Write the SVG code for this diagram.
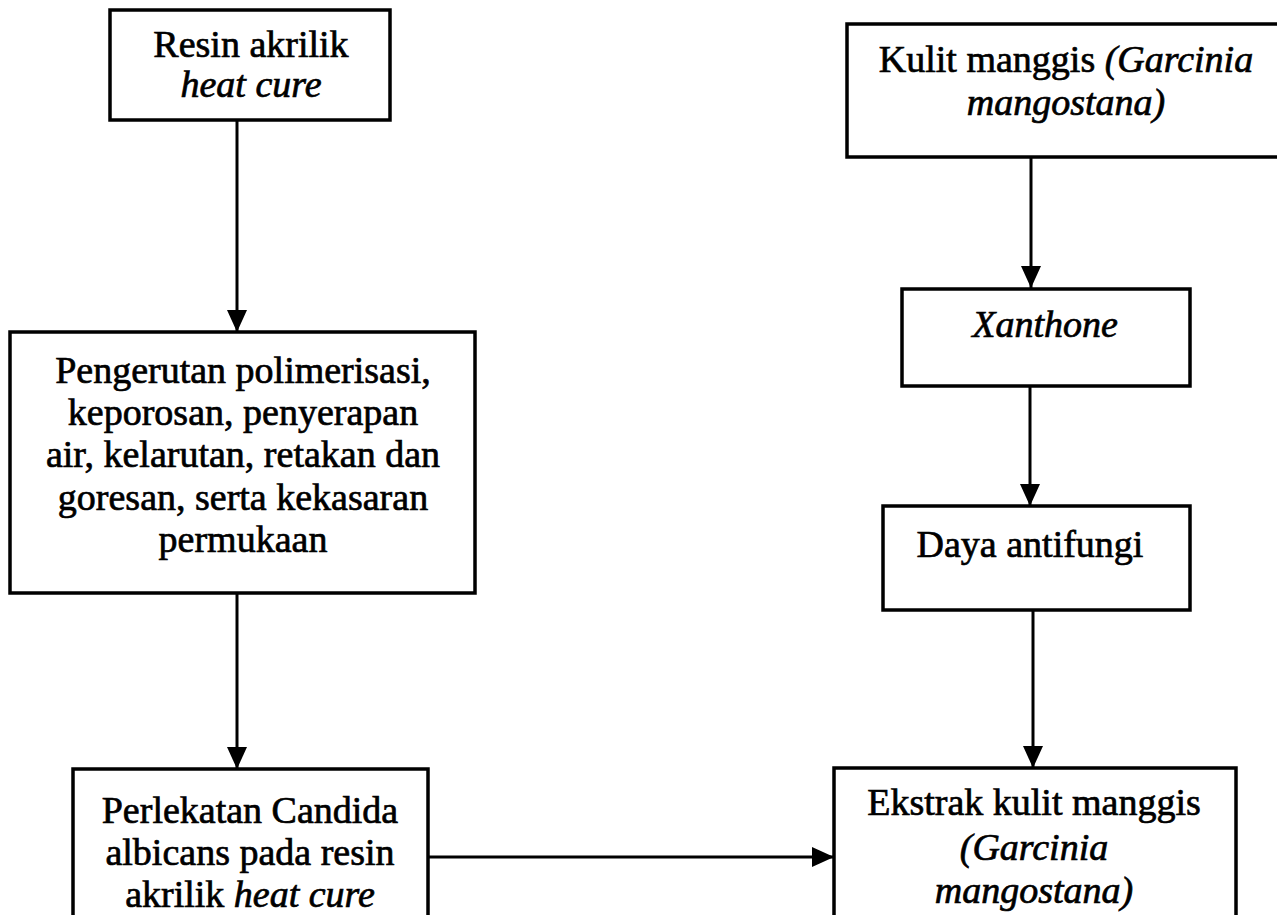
<svg xmlns="http://www.w3.org/2000/svg" width="1277" height="915" viewBox="0 0 1277 915">
<style>
.box{fill:#fff;stroke:#000;stroke-width:3.5}
.t{font-family:"Liberation Serif","Times New Roman",serif;font-size:38px;fill:#000;stroke:#000;stroke-width:0.7;text-anchor:middle}
.i{font-style:italic}
.c{fill:none;stroke:#000;stroke-width:3}
</style>
<defs>
<marker id="ah" markerUnits="userSpaceOnUse" markerWidth="24" markerHeight="22" refX="22" refY="10" orient="auto">
<path d="M0,0 L22,10 L0,20 Z" fill="#000"/>
</marker>
</defs>
<rect width="1277" height="915" fill="#fff"/>
<g id="connectors">
<line class="c" x1="237" y1="120" x2="237" y2="332" marker-end="url(#ah)"/>
<line class="c" x1="237" y1="593" x2="237" y2="769" marker-end="url(#ah)"/>
<line class="c" x1="1031" y1="157" x2="1031" y2="288" marker-end="url(#ah)"/>
<line class="c" x1="1030" y1="386" x2="1030" y2="506" marker-end="url(#ah)"/>
<line class="c" x1="1033" y1="610" x2="1033" y2="768" marker-end="url(#ah)"/>
<line class="c" x1="428" y1="857" x2="834" y2="857" marker-end="url(#ah)"/>
</g>
<g id="resin">
<rect class="box" x="110" y="10" width="280" height="110"/>
<text class="t" x="251" y="57">Resin akrilik</text>
<text class="t i" x="251" y="97">heat cure</text>
</g>
<g id="pengerutan">
<rect class="box" x="10" y="332" width="465" height="261"/>
<text class="t" x="243" y="383">Pengerutan polimerisasi,</text>
<text class="t" x="243" y="425">keporosan, penyerapan</text>
<text class="t" x="243" y="467">air, kelarutan, retakan dan</text>
<text class="t" x="243" y="510">goresan, serta kekasaran</text>
<text class="t" x="243" y="552">permukaan</text>
</g>
<g id="perlekatan">
<rect class="box" x="73" y="769" width="355" height="160"/>
<text class="t" x="250" y="823">Perlekatan Candida</text>
<text class="t" x="250" y="865">albicans pada resin</text>
<text class="t" x="250" y="907">akrilik <tspan class="i">heat cure</tspan></text>
</g>
<g id="kulit">
<rect class="box" x="847" y="24" width="440" height="133"/>
<text class="t" x="1066" y="72">Kulit manggis <tspan class="i">(Garcinia</tspan></text>
<text class="t i" x="1066" y="115">mangostana)</text>
</g>
<g id="xanthone">
<rect class="box" x="902" y="289" width="288" height="97"/>
<text class="t i" x="1045" y="337">Xanthone</text>
</g>
<g id="daya">
<rect class="box" x="883" y="506" width="307" height="104"/>
<text class="t" x="1030" y="557">Daya antifungi</text>
</g>
<g id="ekstrak">
<rect class="box" x="834" y="768" width="402" height="160"/>
<text class="t" x="1034" y="815">Ekstrak kulit manggis</text>
<text class="t i" x="1034" y="860">(Garcinia</text>
<text class="t i" x="1034" y="903">mangostana)</text>
</g>
</svg>
